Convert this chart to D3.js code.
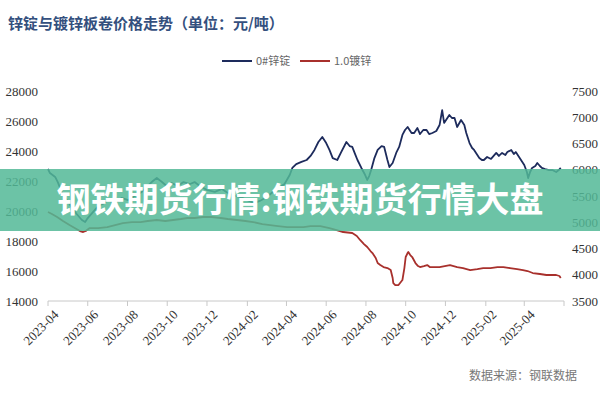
<!DOCTYPE html>
<html>
<head>
<meta charset="utf-8">
<script src="https://cdn.jsdelivr.net/npm/d3@7"></script>
<style>
  html, body { margin: 0; padding: 0; background: #fff; }
  svg { display: block; }
</style>
</head>
<body>
<svg id="chart" width="600" height="400"></svg>
<script>
// 0#锌锭 (left axis)
const zincDates = [
  "2023-04-01","2023-04-04","2023-04-12","2023-04-16","2023-04-22","2023-04-30","2023-05-08","2023-05-15",
  "2023-05-23","2023-05-28","2023-06-01","2023-06-09","2023-06-17","2023-06-24","2023-07-02","2023-07-13",
  "2023-07-23","2023-08-02","2023-08-12","2023-08-23","2023-09-01","2023-09-09","2023-09-15","2023-09-23",
  "2023-09-30","2023-10-08","2023-10-17","2023-10-26","2023-11-05","2023-11-12","2023-11-20","2023-12-01",
  "2023-12-13","2023-12-24","2024-01-02","2024-01-14","2024-01-25","2024-02-01","2024-02-12","2024-02-20",
  "2024-03-02","2024-03-11","2024-03-20","2024-03-29","2024-04-06","2024-04-10","2024-04-16","2024-04-24",
  "2024-05-02","2024-05-08","2024-05-14","2024-05-20","2024-05-26","2024-06-01","2024-06-06","2024-06-11",
  "2024-06-18","2024-06-24","2024-07-02","2024-07-07","2024-07-11","2024-07-16","2024-07-19","2024-07-25",
  "2024-07-30","2024-08-03","2024-08-06","2024-08-09","2024-08-14","2024-08-19","2024-08-25","2024-08-29",
  "2024-09-03","2024-09-06","2024-09-11","2024-09-17","2024-09-21","2024-09-26","2024-09-30","2024-10-04",
  "2024-10-10","2024-10-14","2024-10-19","2024-10-23","2024-10-28","2024-11-02","2024-11-06","2024-11-11",
  "2024-11-17","2024-11-22","2024-11-26","2024-11-29","2024-12-04","2024-12-07","2024-12-11","2024-12-15",
  "2024-12-19","2024-12-25","2024-12-30","2025-01-02","2025-01-07","2025-01-11","2025-01-14","2025-01-19",
  "2025-01-22","2025-01-26","2025-01-29","2025-02-03","2025-02-09","2025-02-17","2025-02-21","2025-02-26",
  "2025-03-03","2025-03-06","2025-03-12","2025-03-16","2025-03-19","2025-03-24","2025-03-29","2025-04-01",
  "2025-04-05","2025-04-07","2025-04-10","2025-04-13","2025-04-18","2025-04-21","2025-04-25","2025-04-28",
  "2025-05-03","2025-05-09","2025-05-14","2025-05-20","2025-05-24","2025-05-27"
];
const zincValues = [
  22800,22530,22270,21930,21270,20730,20200,19800,
  19400,19270,19530,19930,20330,20470,20730,20530,
  20870,20730,21000,21270,21670,22000,22200,21930,
  21670,21870,21670,21930,21800,21930,21670,21400,
  21270,21470,21200,21000,20870,20730,20530,20670,
  20930,21270,21530,21800,22400,22870,23130,23270,
  23400,23670,24070,24600,24930,24530,24070,23530,
  23400,23930,24600,24330,24270,23730,23400,22870,
  22470,22070,22330,22730,23530,24070,24330,24270,
  23400,22930,23200,23930,24270,25070,25400,25600,
  25200,25200,25530,25130,25400,25400,25130,25200,
  25330,25730,26730,25870,26200,26400,26200,26200,
  25600,26070,25730,25200,24530,24200,24070,23730,
  23530,23400,23400,23600,23470,23870,23670,23870,
  23730,23930,24070,23800,23930,23600,23270,23070,
  22600,22200,22600,22870,23000,23200,23000,22870,
  22800,22730,22730,22600,22730,22870
];

// 1.0镀锌 (right axis)
const galvDates = [
  "2023-04-01","2023-04-07","2023-04-15","2023-04-24","2023-05-04","2023-05-12","2023-05-20","2023-05-25",
  "2023-05-29","2023-06-04","2023-06-17","2023-07-01","2023-07-13","2023-07-25","2023-08-08","2023-08-21",
  "2023-09-01","2023-09-15","2023-09-28","2023-10-10","2023-10-22","2023-11-01","2023-11-12","2023-11-25",
  "2023-12-08","2023-12-22","2024-01-02","2024-01-16","2024-01-29","2024-02-10","2024-02-24","2024-03-07",
  "2024-03-19","2024-04-02","2024-04-14","2024-04-27","2024-05-08","2024-05-23","2024-06-06","2024-06-17",
  "2024-06-27","2024-07-11","2024-07-18","2024-07-23","2024-07-29","2024-08-03","2024-08-08","2024-08-11",
  "2024-08-16","2024-08-19","2024-08-23","2024-08-28","2024-09-03","2024-09-08","2024-09-11","2024-09-12",
  "2024-09-15","2024-09-20","2024-09-26","2024-09-29","2024-10-01","2024-10-04","2024-10-05","2024-10-08",
  "2024-10-11","2024-10-16","2024-10-20","2024-10-23","2024-10-29","2024-11-03","2024-11-07","2024-11-12",
  "2024-11-22","2024-12-08","2024-12-19","2024-12-28","2025-01-08","2025-01-19","2025-01-28","2025-02-08",
  "2025-02-19","2025-02-28","2025-03-10","2025-03-21","2025-03-30","2025-04-06","2025-04-14","2025-04-25",
  "2025-05-05","2025-05-14","2025-05-20","2025-05-25","2025-05-27"
];
const galvValues = [
  5195,5157,5100,5024,4947,4890,4833,4814,
  4833,4890,4890,4909,4947,4985,5004,5004,
  5024,5043,5024,5043,5062,5081,5081,5100,
  5100,5081,5062,5043,5024,5004,4966,4947,
  4928,4909,4909,4909,4928,4928,4890,4852,
  4814,4795,4738,4662,4585,4528,4452,4414,
  4319,4223,4185,4147,4128,4090,3938,3842,
  3804,3804,3900,4128,4338,4414,4433,4376,
  4338,4223,4166,4147,4166,4185,4147,4147,
  4147,4185,4147,4128,4090,4109,4128,4128,
  4147,4147,4128,4109,4090,4071,4033,4014,
  3995,3995,3995,3976,3938
];

const leftTicks = [14000, 16000, 18000, 20000, 22000, 24000, 26000, 28000];
const rightTicks = [3500, 4000, 4500, 5000, 5500, 6000, 6500, 7000, 7500];
const monthTicks = ["2023-04","2023-06","2023-08","2023-10","2023-12","2024-02","2024-04",
  "2024-06","2024-08","2024-10","2024-12","2025-02","2025-04","2025-06"];

const titleText = "锌锭与镀锌板卷价格走势（单位：元/吨）";
const seriesNames = ["0#锌锭", "1.0镀锌"];
const bannerText = "钢铁期货行情:钢铁期货行情大盘";
const sourceText = "数据来源：钢联数据";

const parse = d3.timeParse("%Y-%m-%d");
const parseMonth = d3.timeParse("%Y-%m");

const svg = d3.select("#chart");
const cjk = "'Noto Sans CJK SC', 'Noto Sans', sans-serif";
const serif = "'Liberation Serif', 'DejaVu Serif', serif";

const x = d3.scaleTime()
  .domain([parseMonth("2023-04"), parseMonth("2025-06")])
  .range([48, 564]);
const yL = d3.scaleLinear().domain([14000, 28000]).range([301, 91]);
const yR = d3.scaleLinear().domain([3500, 7500]).range([301, 91]);

// title
svg.append("text")
  .attr("x", 8).attr("y", 29)
  .attr("font-family", cjk).attr("font-weight", "bold")
  .attr("font-size", 15).attr("fill", "#34507e")
  .text(titleText);

// legend
const legend = [
  { name: seriesNames[0], color: "#1d2b5c", x: 222 },
  { name: seriesNames[1], color: "#a8302c", x: 300 },
];
legend.forEach((l) => {
  svg.append("line")
    .attr("x1", l.x).attr("x2", l.x + 30)
    .attr("y1", 61).attr("y2", 61)
    .attr("stroke", l.color).attr("stroke-width", 2);
  svg.append("text")
    .attr("x", l.x + 34).attr("y", 65)
    .attr("font-family", cjk).attr("font-size", 11)
    .attr("fill", "#666")
    .text(l.name);
});

// y axes labels (no axis line)
svg.append("g")
  .selectAll("text")
  .data(leftTicks)
  .join("text")
  .attr("x", 38).attr("y", (d) => yL(d))
  .attr("dy", "0.35em").attr("text-anchor", "end")
  .attr("font-family", serif).attr("font-size", 13)
  .attr("fill", "#333")
  .text((d) => d);

svg.append("g")
  .selectAll("text")
  .data(rightTicks)
  .join("text")
  .attr("x", 572).attr("y", (d) => yR(d))
  .attr("dy", "0.35em").attr("text-anchor", "start")
  .attr("font-family", serif).attr("font-size", 13)
  .attr("fill", "#333")
  .text((d) => d);

// x axis
const xAxis = svg.append("g").attr("transform", "translate(0,301)");
xAxis.append("line")
  .attr("x1", 48).attr("x2", 564)
  .attr("stroke", "#c8c8c8");
xAxis.selectAll("line.tick")
  .data(monthTicks)
  .join("line")
  .attr("class", "tick")
  .attr("x1", (d) => x(parseMonth(d))).attr("x2", (d) => x(parseMonth(d)))
  .attr("y1", 0).attr("y2", 5)
  .attr("stroke", "#c8c8c8");
xAxis.selectAll("text")
  .data(monthTicks.slice(0, -1))
  .join("text")
  .attr("transform", (d) => `translate(${x(parseMonth(d)) + 5},8) rotate(-45)`)
  .attr("text-anchor", "end")
  .attr("dy", "0.7em")
  .attr("font-family", serif).attr("font-size", 13)
  .attr("fill", "#333")
  .text((d) => d);

// lines
const zinc = zincDates.map((d, i) => ({ date: parse(d), value: zincValues[i] }));
const galv = galvDates.map((d, i) => ({ date: parse(d), value: galvValues[i] }));

svg.append("path")
  .datum(galv)
  .attr("fill", "none")
  .attr("stroke", legend[1].color)
  .attr("stroke-width", 1.8)
  .attr("stroke-linejoin", "round")
  .attr("d", d3.line().x((d) => x(d.date)).y((d) => yR(d.value)));

svg.append("path")
  .datum(zinc)
  .attr("fill", "none")
  .attr("stroke", legend[0].color)
  .attr("stroke-width", 1.8)
  .attr("stroke-linejoin", "round")
  .attr("d", d3.line().x((d) => x(d.date)).y((d) => yL(d.value)));

// source
svg.append("text")
  .attr("x", 577).attr("y", 380)
  .attr("text-anchor", "end")
  .attr("font-family", cjk).attr("font-size", 12)
  .attr("fill", "#777")
  .text(sourceText);

// overlay banner
svg.append("rect")
  .attr("x", 0).attr("y", 169)
  .attr("width", 600).attr("height", 62)
  .attr("fill", "#52b896").attr("opacity", 0.85);

svg.append("text")
  .attr("x", 300).attr("y", 212)
  .attr("text-anchor", "middle")
  .attr("font-family", cjk).attr("font-weight", "bold")
  .attr("font-size", 34).attr("fill", "#fff")
  .text(bannerText);
</script>
</body>
</html>
